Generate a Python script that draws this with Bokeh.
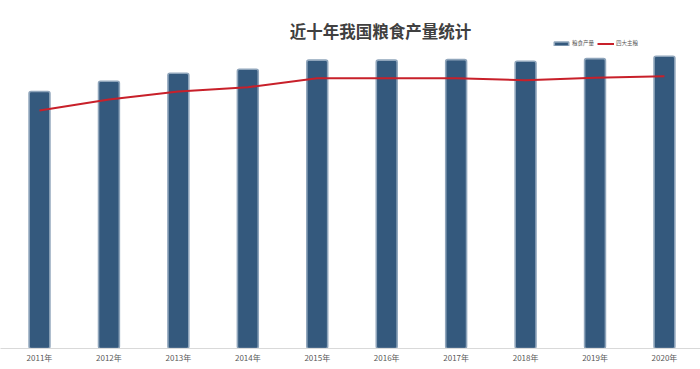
from bokeh.plotting import figure
from bokeh.models import ColumnDataSource, Range1d, FixedTicker, Label, Legend, LegendItem
from bokeh.embed import file_html
from bokeh.resources import INLINE

# ---- data ----
years = ["2011年", "2012年", "2013年", "2014年", "2015年", "2016年", "2017年", "2018年", "2019年", "2020年"]
grain = [58849, 61223, 63048, 63965, 66060, 66044, 66161, 65789, 66384, 66949]
staples = [54510, 57030, 58860, 59850, 61910, 61910, 61910, 61450, 62000, 62370]

idx = list(range(len(years)))
src = ColumnDataSource(dict(x=idx, grain=grain, staples=staples))

W, H = 700, 366
FRAME_H = 348
PX_X = 69.44            # pixels per category
X0 = -39 / PX_X
Y_PER_PX = 229.04
x_range = Range1d(X0, X0 + W / PX_X)
y_range = Range1d(0, FRAME_H * Y_PER_PX)

p = figure(width=W, height=H, x_range=x_range, y_range=y_range,
           output_backend="svg", toolbar_location=None,
           min_border_left=0, min_border_right=0, min_border_top=0,
           min_border_bottom=H - FRAME_H)
p.outline_line_color = None
p.background_fill_color = "white"
p.border_fill_color = "white"
p.grid.visible = False
p.yaxis.visible = False

ax = p.xaxis[0]
ax.ticker = FixedTicker(ticks=idx)
ax.major_label_overrides = {i: y for i, y in enumerate(years)}
ax.major_tick_line_color = None
ax.major_tick_out = 0
ax.major_tick_in = 0
ax.minor_tick_line_color = None
ax.minor_tick_out = 0
ax.axis_line_color = "#d9d9d9"
ax.axis_line_width = 1
ax.major_label_text_font = "Noto Sans CJK SC"
ax.major_label_text_font_size = "8px"
ax.major_label_text_color = "#595959"
ax.major_label_standoff = 3

bars = p.vbar(x="x", top="grain", width=0.3, source=src,
              fill_color="#34597d", line_color="#8fa5bb", line_width=1.6,
              border_radius=2)
line = p.line(x="x", y="staples", source=src, line_color="#c8202a", line_width=2)

def dx(px):
    return X0 + px / PX_X

def dy(py):
    return (FRAME_H - py) * Y_PER_PX

title = Label(x=dx(380), y=dy(30), text="近十年我国粮食产量统计",
              text_font="Noto Sans CJK SC", text_font_size="16.5px", text_font_style="bold",
              text_color="#404040", text_align="center", text_baseline="middle")
p.add_layout(title)

common = dict(orientation="horizontal", label_text_font="Noto Sans CJK SC",
              label_text_font_size="5.5px", label_text_color="#595959",
              glyph_height=5, label_standoff=2, spacing=0, padding=0, margin=0,
              background_fill_alpha=0, border_line_color=None, label_height=6)
leg1 = Legend(items=[LegendItem(label="粮食产量", renderers=[bars])],
              location=(552, 301), glyph_width=18, **common)
leg2 = Legend(items=[LegendItem(label="四大主粮", renderers=[line])],
              location=(597, 301), glyph_width=17, **common)
p.add_layout(leg1)
p.add_layout(leg2)

open("out.html", "w").write(file_html(p, INLINE))
